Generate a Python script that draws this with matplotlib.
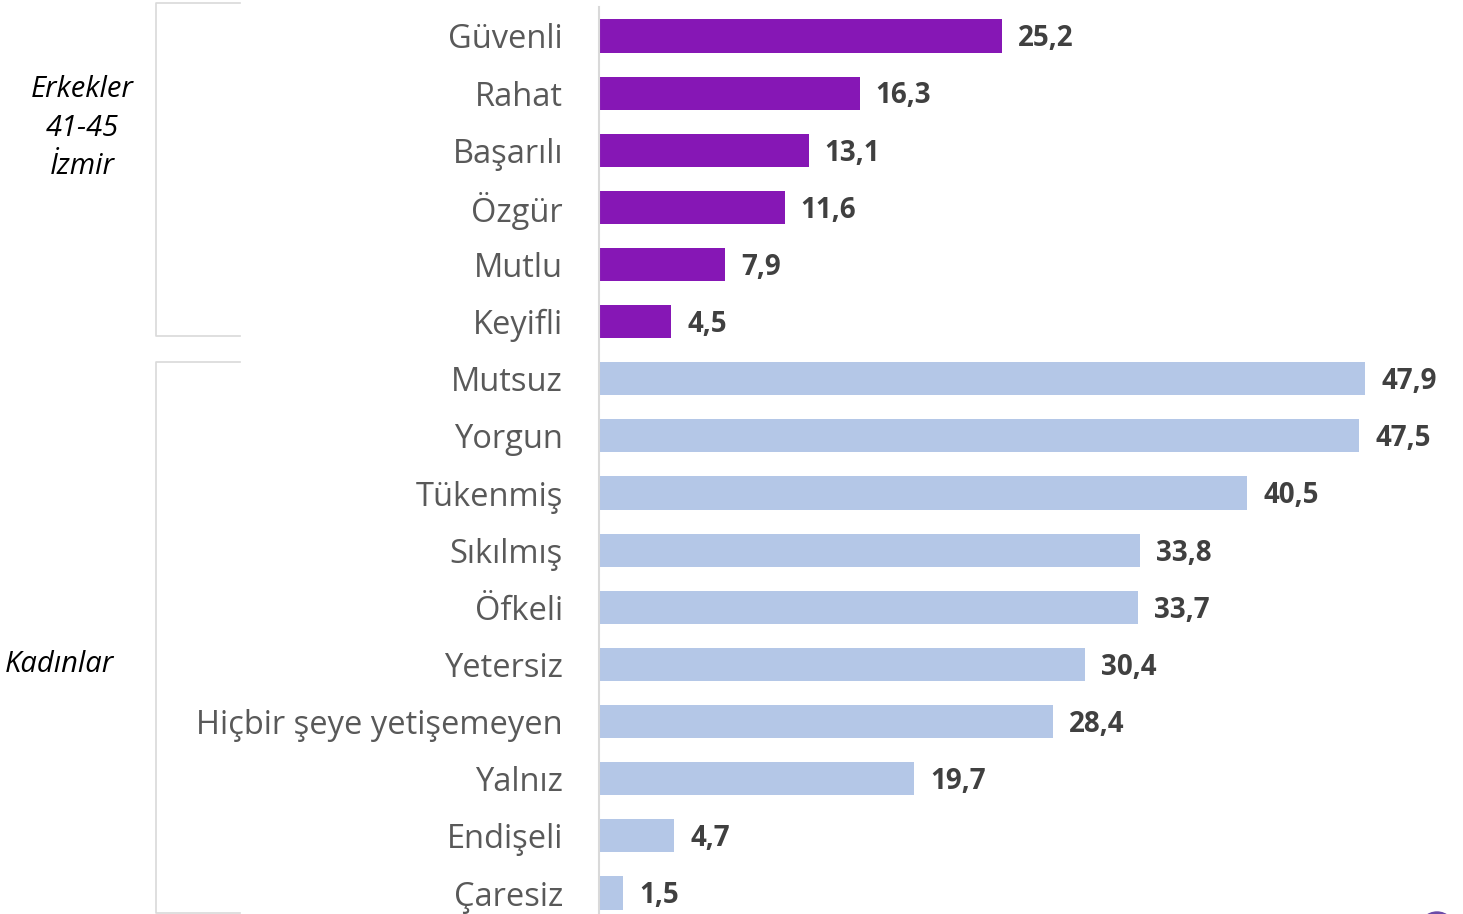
import matplotlib.pyplot as plt
from matplotlib.patches import Ellipse
from matplotlib.lines import Line2D

# categories and values, top to bottom
labels = ['Güvenli', 'Rahat', 'Başarılı', 'Özgür', 'Mutlu', 'Keyifli',
          'Mutsuz', 'Yorgun', 'Tükenmiş', 'Sıkılmış', 'Öfkeli', 'Yetersiz',
          'Hiçbir şeye yetişemeyen', 'Yalnız', 'Endişeli', 'Çaresiz']
values = [25.2, 16.3, 13.1, 11.6, 7.9, 4.5,
          47.9, 47.5, 40.5, 33.8, 33.7, 30.4, 28.4, 19.7, 4.7, 1.5]
groups = ['Erkekler\n41-45\nİzmir', 'Kadınlar']
group_sizes = [6, 10]

purple = '#8617B5'
blue = '#B4C7E7'


def main():
  W, H = 1463, 914
  fig = plt.figure(figsize=(W / 100, H / 100), dpi=100)
  ax = fig.add_axes([599 / W, -0.0083, 1 - 599 / W, 1.0002])

  colors = [purple] * group_sizes[0] + [blue] * group_sizes[1]
  y = list(range(len(labels)))
  ax.barh(y, values, height=0.58, color=colors)
  ax.set_ylim(len(labels) - 0.5, -0.5)
  ax.set_xlim(0, 54)

  for yi, v in zip(y, values):
    ax.text(v + 1.0, yi + 0.05, f'{v:.1f}'.replace('.', ','), va='center', ha='left',
            fontsize=20, fontweight='bold', color='#404040', family='Open Sans')

  ax.set_yticks(y)
  ax.set_yticklabels(labels, fontsize=23.5, color='#595959', family='Open Sans')
  ax.tick_params(axis='y', length=0, pad=26)
  ax.set_xticks([])
  for s in ['top', 'right', 'bottom']:
    ax.spines[s].set_visible(False)
  ax.spines['left'].set_color('#D9D9D9')
  ax.spines['left'].set_linewidth(1.5)

  # group brackets
  def px(x, yy):
    return x / W, 1 - yy / H

  for (top, bot) in [(3, 336), (362, 913)]:
    xs, ys = zip(px(240, top), px(156, top), px(156, bot), px(240, bot))
    fig.add_artist(Line2D(xs, ys, color='#D9D9D9', lw=1.2))

  fig.text(*px(82, 128), groups[0], ha='center', va='center', fontsize=21,
           style='italic', family='Open Sans', linespacing=1.42)
  fig.text(*px(59, 665), groups[1], ha='center', va='center', fontsize=21,
           style='italic', family='Open Sans')

  fig.add_artist(Ellipse(px(1437, 930), 36 / W, 36 / H, color='#6B4BA8'))

  fig.savefig('out.png', dpi=100)


if __name__ == '__main__':
  main()
